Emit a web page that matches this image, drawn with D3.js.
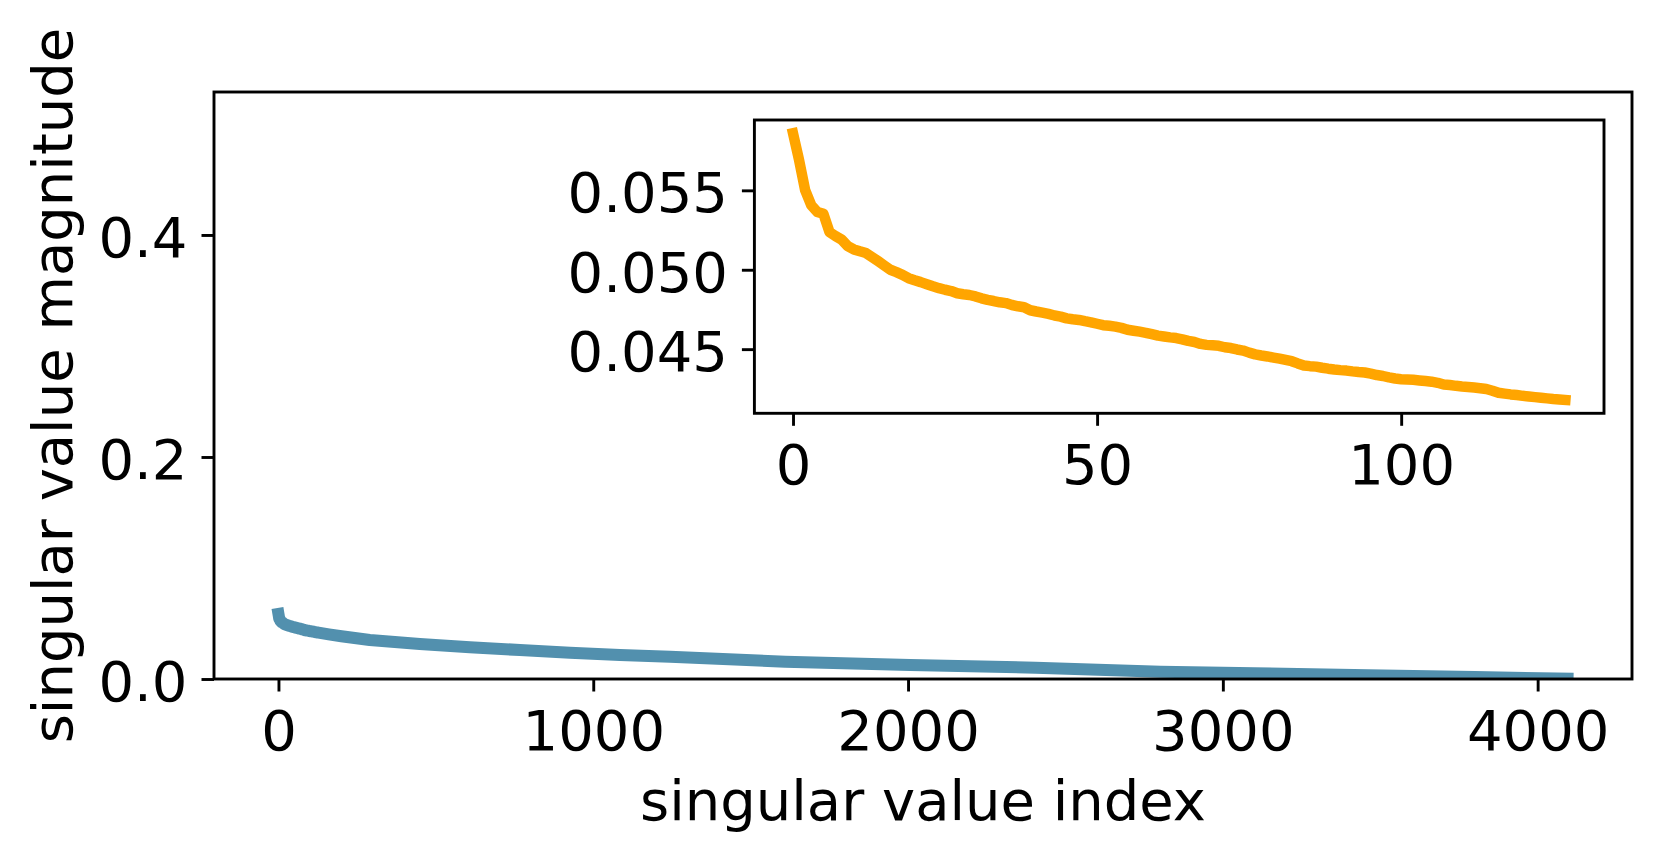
<!DOCTYPE html>
<html>
<head>
<meta charset="utf-8">
<script src="https://cdn.jsdelivr.net/npm/d3@7"></script>
<style>
  html, body { margin: 0; padding: 0; background: #ffffff; }
  svg { display: block; }
  text { font-family: "DejaVu Sans", sans-serif; fill: #000; }
</style>
</head>
<body>
<svg id="chart" width="1661" height="861"></svg>
<script>
// ---------------- data ----------------
// first 128 singular values (shown in the inset, also the head of the main curve)
const insetValues = [
  0.05859, 0.05690, 0.05500, 0.05406, 0.05364, 0.05352, 0.05237, 0.05212, 0.05190, 0.05149,
  0.05128, 0.05116, 0.05105, 0.05080, 0.05054, 0.05027, 0.05000, 0.04985, 0.04968, 0.04947,
  0.04934, 0.04922, 0.04909, 0.04896, 0.04884, 0.04874, 0.04866, 0.04852, 0.04846, 0.04841,
  0.04832, 0.04820, 0.04810, 0.04803, 0.04795, 0.04790, 0.04778, 0.04770, 0.04764, 0.04745,
  0.04737, 0.04730, 0.04722, 0.04712, 0.04705, 0.04694, 0.04688, 0.04684, 0.04676, 0.04669,
  0.04660, 0.04651, 0.04647, 0.04642, 0.04634, 0.04622, 0.04616, 0.04610, 0.04603, 0.04594,
  0.04585, 0.04580, 0.04574, 0.04570, 0.04562, 0.04552, 0.04545, 0.04533, 0.04527, 0.04524,
  0.04521, 0.04512, 0.04507, 0.04498, 0.04491, 0.04478, 0.04467, 0.04460, 0.04454, 0.04447,
  0.04440, 0.04432, 0.04424, 0.04410, 0.04397, 0.04393, 0.04390, 0.04383, 0.04377, 0.04372,
  0.04368, 0.04365, 0.04360, 0.04356, 0.04353, 0.04346, 0.04337, 0.04331, 0.04322, 0.04315,
  0.04311, 0.04309, 0.04307, 0.04303, 0.04299, 0.04295, 0.04288, 0.04277, 0.04274, 0.04269,
  0.04265, 0.04262, 0.04258, 0.04254, 0.04249, 0.04238, 0.04225, 0.04220, 0.04215, 0.04211,
  0.04206, 0.04202, 0.04198, 0.04194, 0.04190, 0.04186, 0.04183, 0.04180
];
// tail of the full spectrum, read at sampled indices
const tailIndex = [160, 200, 290, 449, 608, 767, 926, 1085, 1244, 1610, 2007, 2405, 2802, 3100, 3461, 3800, 4095];
const tailValue = [0.0402, 0.0385, 0.0351, 0.0315, 0.0286, 0.0261, 0.0237, 0.0216, 0.0201, 0.0156, 0.0126, 0.0102, 0.0066, 0.0052, 0.0034, 0.0018, 0.0003];

const mainXTicks = [0, 1000, 2000, 3000, 4000];
const mainYTicks = [0.0, 0.2, 0.4];
const mainYMax = 0.5288;
const insetXTicks = [0, 50, 100];
const insetYTicks = [0.045, 0.050, 0.055];
const xLabel = "singular value index";
const yLabel = "singular value magnitude";

// ---------------- layout ----------------
const FONT = 56;
const TICK = 12.5, PAD = 14, SPINE = 2.9;
const main = { left: 214, right: 1632, top: 92, bottom: 679 };
const inset = { left: 754.4, right: 1604, top: 120, bottom: 413.3 };

const svg = d3.select("#chart");
svg.append("rect").attr("width", 1661).attr("height", 861).attr("fill", "#fff");

function padExtent(ext) {
  const m = (ext[1] - ext[0]) * 0.05;
  return [ext[0] - m, ext[1] + m];
}

const mainData = insetValues.map((v, i) => ({ i: i, v: v }))
  .concat(tailIndex.map((idx, k) => ({ i: idx, v: tailValue[k] })));
const insetData = insetValues.map((v, i) => ({ i: i, v: v }));

function drawAxes(box, xDomain, yDomain, xTicks, yTicks, yFmt, data, color, lw, clipId) {
  const x = d3.scaleLinear().domain(xDomain).range([box.left, box.right]);
  const y = d3.scaleLinear().domain(yDomain).range([box.bottom, box.top]);
  const g = svg.append("g");
  g.append("rect")
    .attr("x", box.left).attr("y", box.top)
    .attr("width", box.right - box.left).attr("height", box.bottom - box.top)
    .attr("fill", "#fff");

  svg.append("clipPath").attr("id", clipId).append("rect")
    .attr("x", box.left).attr("y", box.top)
    .attr("width", box.right - box.left).attr("height", box.bottom - box.top);

  const line = d3.line().x(d => x(d.i)).y(d => y(d.v));
  g.append("path").datum(data)
    .attr("d", line)
    .attr("fill", "none")
    .attr("stroke", color)
    .attr("stroke-width", lw)
    .attr("stroke-linejoin", "round")
    .attr("stroke-linecap", "square")
    .attr("clip-path", `url(#${clipId})`);

  // x axis
  const xAxis = d3.axisBottom(x).tickValues(xTicks).tickSize(TICK).tickPadding(PAD).tickFormat(d3.format("d"));
  const xg = g.append("g").attr("transform", `translate(0,${box.bottom})`).call(xAxis);
  xg.select(".domain").remove();
  xg.selectAll(".tick line").attr("stroke", "#000").attr("stroke-width", SPINE);
  xg.selectAll(".tick text")
    .attr("font-size", FONT).attr("font-family", "DejaVu Sans")
    .attr("fill", "#000")
    .attr("dy", null)
    .attr("y", TICK + 58.5);

  const yAxis = d3.axisLeft(y).tickValues(yTicks).tickSize(TICK).tickPadding(PAD).tickFormat(yFmt);
  const yg = g.append("g").attr("transform", `translate(${box.left},0)`).call(yAxis);
  yg.select(".domain").remove();
  yg.selectAll(".tick line").attr("stroke", "#000").attr("stroke-width", SPINE);
  yg.selectAll(".tick text")
    .attr("font-size", FONT).attr("font-family", "DejaVu Sans")
    .attr("fill", "#000")
    .attr("dy", null)
    .attr("y", 21.5);

  g.append("rect")
    .attr("x", box.left).attr("y", box.top)
    .attr("width", box.right - box.left).attr("height", box.bottom - box.top)
    .attr("fill", "none").attr("stroke", "#000").attr("stroke-width", SPINE);
  return { x, y };
}

// main axes
drawAxes(main,
  padExtent(d3.extent(mainData, d => d.i)),
  [0, mainYMax],
  mainXTicks, mainYTicks, d3.format(".1f"),
  mainData, "#5290ae", 12, "clipMain");

// inset axes
drawAxes(inset,
  padExtent(d3.extent(insetData, d => d.i)),
  padExtent(d3.extent(insetData, d => d.v)),
  insetXTicks, insetYTicks, d3.format(".3f"),
  insetData, "#ffa500", 10.5, "clipInset");

// axis labels
svg.append("text")
  .attr("x", (main.left + main.right) / 2)
  .attr("y", 820)
  .attr("text-anchor", "middle")
  .attr("font-size", FONT)
  .text(xLabel);

svg.append("text")
  .attr("transform", `translate(72,${(main.top + main.bottom) / 2}) rotate(-90)`)
  .attr("text-anchor", "middle")
  .attr("font-size", FONT)
  .text(yLabel);
</script>
</body>
</html>
